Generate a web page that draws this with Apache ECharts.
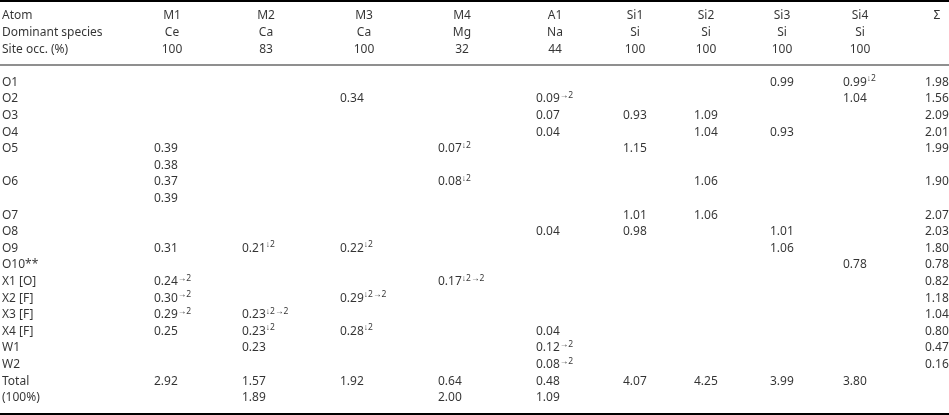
<!DOCTYPE html>
<html>
<head>
<meta charset="utf-8">
<script src="https://cdn.jsdelivr.net/npm/echarts@6/dist/echarts.min.js"></script>
<style>
html,body{margin:0;padding:0;background:#fff;}
#chart{width:949px;height:415px;}
</style>
</head>
<body>
<div id="chart"></div>
<script>
// ---- Table data ----
const headerLabels = ['Atom', 'Dominant species', 'Site occ. (%)'];
const sites = ['M1', 'M2', 'M3', 'M4', 'A1', 'Si1', 'Si2', 'Si3', 'Si4', 'Σ'];
const species = ['Ce', 'Ca', 'Ca', 'Mg', 'Na', 'Si', 'Si', 'Si', 'Si', ''];
const siteOcc = ['100', '83', '100', '32', '44', '100', '100', '100', '100', ''];
const atoms = ['O1', 'O2', 'O3', 'O4', 'O5', '', 'O6', '', 'O7', 'O8', 'O9', 'O10**',
  'X1 [O]', 'X2 [F]', 'X3 [F]', 'X4 [F]', 'W1', 'W2', 'Total', '(100%)'];
// value '^' superscript
const colM1 = [null, null, null, null, '0.39', '0.38', '0.37', '0.39', null, null, '0.31', null,
  '0.24^→2', '0.30^→2', '0.29^→2', '0.25', null, null, '2.92', null];
const colM2 = [null, null, null, null, null, null, null, null, null, null, '0.21^↓2', null,
  null, null, '0.23^↓2→2', '0.23^↓2', '0.23', null, '1.57', '1.89'];
const colM3 = [null, '0.34', null, null, null, null, null, null, null, null, '0.22^↓2', null,
  null, '0.29^↓2→2', null, '0.28^↓2', null, null, '1.92', null];
const colM4 = [null, null, null, null, '0.07^↓2', null, '0.08^↓2', null, null, null, null, null,
  '0.17^↓2→2', null, null, null, null, null, '0.64', '2.00'];
const colA1 = [null, '0.09^→2', '0.07', '0.04', null, null, null, null, null, '0.04', null, null,
  null, null, null, '0.04', '0.12^→2', '0.08^→2', '0.48', '1.09'];
const colSi1 = [null, null, '0.93', null, '1.15', null, null, null, '1.01', '0.98', null, null,
  null, null, null, null, null, null, '4.07', null];
const colSi2 = [null, null, '1.09', '1.04', null, null, '1.06', null, '1.06', null, null, null,
  null, null, null, null, null, null, '4.25', null];
const colSi3 = ['0.99', null, null, '0.93', null, null, null, null, null, '1.01', '1.06', null,
  null, null, null, null, null, null, '3.99', null];
const colSi4 = ['0.99^↓2', '1.04', null, null, null, null, null, null, null, null, null, '0.78',
  null, null, null, null, null, null, '3.80', null];
const colSum = ['1.98', '1.56', '2.09', '2.01', '1.99', null, '1.90', null, '2.07', '2.03', '1.80', '0.78',
  '0.82', '1.18', '1.04', '0.80', '0.47', '0.16', null, null];

// ---- Layout (styling, not data) ----
const W = 949, H = 415;
const atomX = 2;
const colLeft = [154, 242, 340, 438, 536, 623, 694, 770, 843, 925];
const colCenter = [172, 266, 364, 462, 555, 635, 706, 782, 860, 937];
const FONT = '"Noto Sans", "Open Sans", sans-serif';
const FS = 12;
const TXT = '#000';

const columns = [colM1, colM2, colM3, colM4, colA1, colSi1, colSi2, colSi3, colSi4, colSum];
const bodyOffset = 4; // 3 header rows + 1 rule row

const leftData = [];
const centerData = [];
headerLabels.forEach((t, i) => leftData.push({ name: t, value: [atomX, i] }));
[sites, species, siteOcc].forEach((arr, r) => {
  arr.forEach((t, c) => { if (t) centerData.push({ name: t, value: [colCenter[c], r] }); });
});
atoms.forEach((t, i) => { if (t) leftData.push({ name: t, value: [atomX, i + bodyOffset] }); });
columns.forEach((col, c) => {
  col.forEach((v, i) => { if (v) leftData.push({ name: v, value: [colLeft[c], i + bodyOffset] }); });
});

function fmt(p) {
  const parts = p.name.split('^');
  return parts[1] ? '{v|' + parts[0] + '}{s|' + parts[1] + '}' : '{v|' + parts[0] + '}';
}
const rich = {
  v: { fontSize: FS, fontFamily: FONT, color: TXT, lineHeight: 16 },
  s: { fontSize: 8.5, fontFamily: FONT, color: TXT, lineHeight: 10, verticalAlign: 'top' }
};

const chart = echarts.init(document.getElementById('chart'), null, { renderer: 'canvas' });
const rowH = 16.6;
const nRows = 24;
const gridTop = 16 - rowH / 2;
chart.setOption({
  animation: false,
  backgroundColor: '#fff',
  grid: { left: 0, right: 0, top: gridTop, height: rowH * nRows, containLabel: false },
  xAxis: { type: 'value', min: 0, max: W, show: false },
  yAxis: { type: 'value', inverse: true, min: -0.5, max: nRows - 0.5, show: false },
  graphic: [
    { type: 'rect', shape: { x: 0, y: 0, width: W, height: 2 }, style: { fill: '#000' } },
    { type: 'rect', shape: { x: 0, y: 64, width: W, height: 2 }, style: { fill: '#8f8f8f' } },
    { type: 'rect', shape: { x: 0, y: 413, width: W, height: 2 }, style: { fill: '#000' } }
  ],
  series: [
    {
      type: 'scatter', symbolSize: 0, data: leftData, silent: true,
      label: { show: true, position: 'right', distance: 0, align: 'left', formatter: fmt, rich: rich }
    },
    {
      type: 'scatter', symbolSize: 0, data: centerData, silent: true,
      label: { show: true, position: 'inside', align: 'center', formatter: fmt, rich: rich }
    }
  ]
});
</script>
</body>
</html>
